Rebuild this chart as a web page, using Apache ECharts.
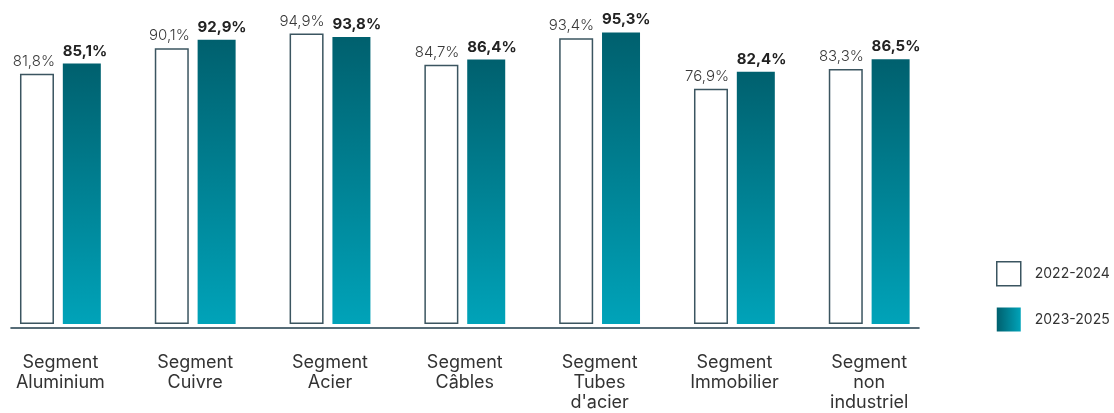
<!DOCTYPE html>
<html>
<head>
<meta charset="utf-8">
<script src="https://cdn.jsdelivr.net/npm/echarts@6/dist/echarts.min.js"></script>
<style>
html,body{margin:0;padding:0;background:#fff;overflow:hidden;}
#chart{width:1121px;height:413px;margin-left:-7px;}
</style>
</head>
<body>
<div id="chart"></div>
<script>
const categories = [
  "Segment\nAluminium",
  "Segment\nCuivre",
  "Segment\nAcier",
  "Segment\nCâbles",
  "Segment\nTubes\nd'acier",
  "Segment\nImmobilier",
  "Segment\nnon\nindustriel"
];
const seriesNames = ["2022-2024", "2023-2025"];
const values2022_2024 = [81.8, 90.1, 94.9, 84.7, 93.4, 76.9, 83.3];
const values2023_2025 = [85.1, 92.9, 93.8, 86.4, 95.3, 82.4, 86.5];

const FONT = "Inter, 'Noto Sans', sans-serif";
const fmt = v => v.toFixed(1).replace('.', ',') + '%';

const barGradient = new echarts.graphic.LinearGradient(0, 0, 0, 1, [
  {offset: 0, color: '#00606e'},
  {offset: 1, color: '#00a3b9'}
]);
const legendGradient = new echarts.graphic.LinearGradient(0, 0, 1, 0, [
  {offset: 0, color: '#00606e'},
  {offset: 1, color: '#00a3b9'}
]);

const chart = echarts.init(document.getElementById('chart'), null, {renderer: 'canvas'});
chart.setOption({
  animation: false,
  backgroundColor: '#fff',
  textStyle: {fontFamily: FONT},
  grid: [
    {left: 0, right: 177.4, top: 18, bottom: 88},
    {left: 18, right: 195, top: 300, bottom: 85}
  ],
  legend: {
    orient: 'vertical',
    left: 1003,
    top: 261,
    padding: 0,
    itemWidth: 24,
    itemHeight: 24,
    itemGap: 21,
    icon: 'rect',
    textStyle: {fontFamily: FONT, fontSize: 14, color: '#333', padding: [0, 0, 0, 9]},
    data: [
      {name: seriesNames[0], itemStyle: {color: '#fff', borderColor: '#3b5560', borderWidth: 1.5}},
      {name: seriesNames[1], itemStyle: {color: legendGradient, borderWidth: 0}}
    ]
  },
  xAxis: [
    {
      type: 'category',
      gridIndex: 0,
      data: categories,
      axisLine: {show: false},
      axisTick: {show: false},
      axisLabel: {
        interval: 0,
        margin: 29,
        fontFamily: FONT,
        fontSize: 18,
        lineHeight: 20,
        color: '#333',
        verticalAlign: 'top'
      }
    },
    {
      type: 'value',
      gridIndex: 1,
      min: 0, max: 1,
      axisLine: {show: true, lineStyle: {color: '#1f3d4b', width: 1.6}},
      axisTick: {show: false},
      axisLabel: {show: false},
      splitLine: {show: false}
    }
  ],
  yAxis: [
    {type: 'value', gridIndex: 0, min: 0, max: 100, show: false, splitLine: {show: false}},
    {type: 'value', gridIndex: 1, show: false}
  ],
  series: [
    {
      name: seriesNames[0],
      type: 'bar',
      xAxisIndex: 0, yAxisIndex: 0,
      data: values2022_2024,
      barWidth: 34,
      barGap: '26%',
      itemStyle: {color: '#fff', borderColor: '#3b5560', borderWidth: 1.5},
      label: {
        show: true,
        position: 'top',
        distance: 5,
        align: 'right',
        offset: [18, 0],
        formatter: p => fmt(p.value),
        fontFamily: FONT,
        fontSize: 15,
        fontWeight: 300,
        color: '#3a3a3a'
      }
    },
    {
      name: seriesNames[1],
      type: 'bar',
      xAxisIndex: 0, yAxisIndex: 0,
      data: values2023_2025,
      barWidth: 38,
      barGap: '26%',
      itemStyle: {color: barGradient},
      label: {
        show: true,
        position: 'top',
        distance: 5,
        align: 'left',
        offset: [-19, 0],
        formatter: p => fmt(p.value),
        fontFamily: FONT,
        fontSize: 15,
        fontWeight: 700,
        color: '#222'
      }
    }
  ]
});
</script>
</body>
</html>
